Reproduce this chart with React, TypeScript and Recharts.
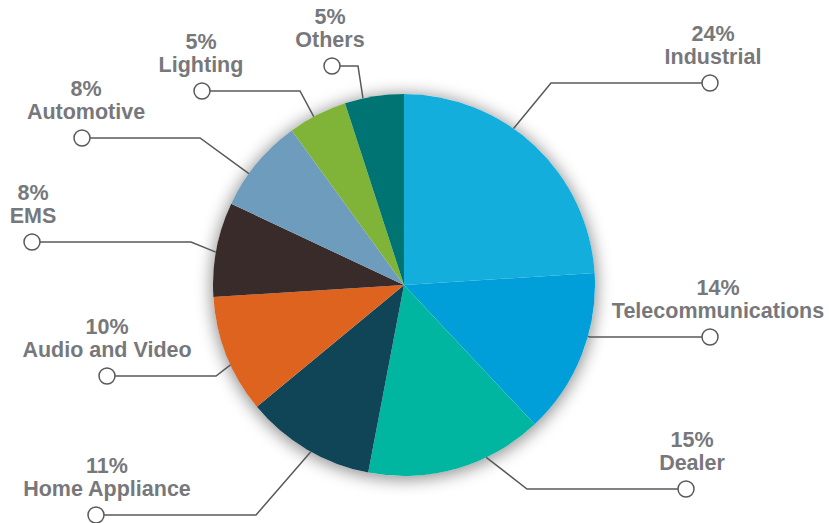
import React from "react";
import { PieChart, Pie, Cell } from "recharts";

const categories = [
  "Industrial",
  "Telecommunications",
  "Dealer",
  "Home Appliance",
  "Audio and Video",
  "EMS",
  "Automotive",
  "Lighting",
  "Others",
];
const shares = [24, 14, 15, 11, 10, 8, 8, 5, 5];
const colors = [
  "#14AEDD",
  "#009FD9",
  "#00B6A0",
  "#104457",
  "#DD631E",
  "#3A2B2B",
  "#6E9CBD",
  "#7FB439",
  "#007373",
];

// leader line geometry per slice, relative to pie centre
// a = angle where the line leaves the rim, e = elbow, x = dot x, t = text centre x
const leaders = [
  { a: 55, e: [147, -202], x: 306, t: 309 },
  { a: -15.6, e: [186, 52], x: 306, t: 314 },
  { a: -64.5, e: [123, 204], x: 282, t: 288 },
  { a: -119.2, e: [-148, 230], x: -308, t: -297 },
  { a: -155.3, e: [-188, 91], x: -297, t: -297 },
  { a: 170.1, e: [-213, -43], x: -372, t: -371 },
  { a: 144.3, e: [-204, -147], x: -322, t: -318 },
  { a: 118.2, e: [-104, -194], x: -202, t: -203 },
  { a: 102.4, e: [-46, -219], x: -72, t: -74 },
];

const data = categories.map((name, i) => ({ name, value: shares[i] }));

const CX = 404;
const CY = 285;
const R = 191;
const RAD = Math.PI / 180;

function renderLabel(props: any) {
  const { cx, cy, outerRadius, index, value, name } = props;
  const l = leaders[index];
  const sx = cx + outerRadius * Math.cos(l.a * RAD);
  const sy = cy - outerRadius * Math.sin(l.a * RAD);
  const ex = cx + l.e[0];
  const ey = cy + l.e[1];
  const dx = cx + l.x;
  const tx = cx + l.t;
  return (
    <g key={`lbl-${index}`}>
      <polyline
        points={`${sx},${sy} ${ex},${ey} ${dx},${ey}`}
        fill="none"
        stroke="#58595B"
        strokeWidth={1.5}
      />
      <circle cx={dx} cy={ey} r={8} fill="#fff" stroke="#58595B" strokeWidth={1.5} />
      <text
        x={tx}
        y={ey - 42}
        textAnchor="middle"
        fill="#77787B"
        fontSize={21.5}
        fontWeight="bold"
        fontFamily="'Liberation Sans', Arial, sans-serif"
      >
        {`${value}%`}
      </text>
      <text
        x={tx}
        y={ey - 19.5}
        textAnchor="middle"
        fill="#77787B"
        fontSize={21.5}
        fontWeight="bold"
        fontFamily="'Liberation Sans', Arial, sans-serif"
      >
        {name}
      </text>
    </g>
  );
}

export default function App() {
  return (
    <div style={{ position: "relative", width: 829, height: 523, background: "#fff" }}>
      <style>{`body { margin: 0; }`}</style>
      {/* soft shadow behind the pie */}
      <div
        style={{
          position: "absolute",
          left: CX - R,
          top: CY - R,
          width: R * 2,
          height: R * 2,
          borderRadius: "50%",
          boxShadow: "0px 2px 16px 2px rgba(0,0,0,0.42)",
        }}
      />
      <div style={{ position: "absolute", left: 0, top: 0 }}>
        <PieChart width={829} height={523} margin={{ top: 0, right: 0, bottom: 0, left: 0 }}>
          <Pie
            data={data}
            dataKey="value"
            nameKey="name"
            cx={CX}
            cy={CY}
            outerRadius={R}
            startAngle={90}
            endAngle={-270}
            stroke="none"
            label={renderLabel}
            labelLine={false}
            isAnimationActive={false}
          >
            {data.map((d, i) => (
              <Cell key={d.name} fill={colors[i]} />
            ))}
          </Pie>
        </PieChart>
      </div>
    </div>
  );
}
